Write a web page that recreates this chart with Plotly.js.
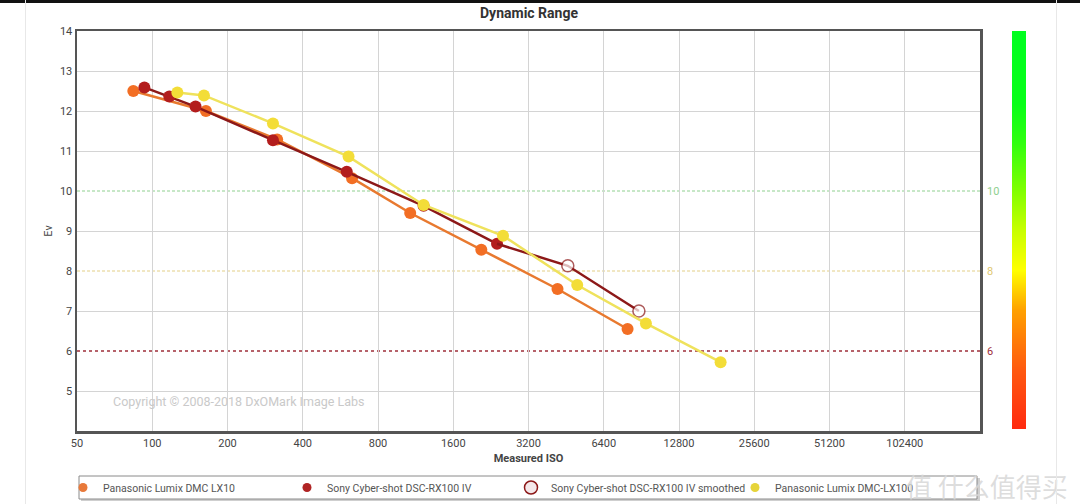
<!DOCTYPE html>
<html>
<head>
<meta charset="utf-8">
<script src="https://cdn.plot.ly/plotly-3.0.1.min.js"></script>
<style>
  html, body { margin: 0; padding: 0; background: #fff; }
  #wrap { position: relative; width: 1080px; height: 504px; overflow: hidden; }
  #chart { position: absolute; left: 0; top: 0; width: 1080px; height: 504px; }
  .topbar { position: absolute; left: 0; top: 0; width: 1080px; height: 3px; background: #111; z-index: 5; }
  .vline { position: absolute; top: 0; width: 1px; height: 504px; background: #e8e8e8; z-index: 5; }
</style>
</head>
<body>
<div id="wrap">
  <div id="chart"></div>
  <div class="topbar"></div>
  <div class="vline" style="left:25px"></div>
  <div class="vline" style="left:1056px"></div>
</div>
<script>
// ---- data ----
const isoTicks = [50, 100, 200, 400, 800, 1600, 3200, 6400, 12800, 25600, 51200, 102400];
const isoTickText = ["50", "100", "200", "400", "800", "1600", "3200", "6400", "12800", "25600", "51200", "102400"];
const evTicks = [5, 6, 7, 8, 9, 10, 11, 12, 13, 14];
const evGrid = [5, 7, 9, 11, 12, 13];

const lx10Iso = [84, 164, 316, 630, 1076, 2072, 4180, 7970];
const lx10Ev  = [12.50, 12.00, 11.29, 10.32, 9.45, 8.53, 7.55, 6.55];

const rx100Iso = [93, 117, 149, 304, 600, 1217, 2395];
const rx100Ev  = [12.59, 12.36, 12.11, 11.27, 10.48, 9.63, 8.68];

const rx100SmIso = [4596, 8848];
const rx100SmEv  = [8.13, 7.00];

const lx100Iso = [126, 161, 304, 610, 1217, 2531, 5013, 9440, 18775];
const lx100Ev  = [12.46, 12.39, 11.69, 10.86, 9.65, 8.88, 7.65, 6.69, 5.72];

const thresholds = [10, 8, 6];
const thresholdColors = ["#8fd08f", "#e3cf86", "#9e2f3a"];
const thresholdLabelColors = ["#8fd08f", "#e0c870", "#9e2f3a"];

const evScale = [4, 5, 6, 7, 8, 9, 10, 11, 12, 13, 14];

const names = ["Panasonic Lumix DMC LX10", "Sony Cyber-shot DSC-RX100 IV",
               "Sony Cyber-shot DSC-RX100 IV smoothed", "Panasonic Lumix DMC-LX100"];

// ---- layout geometry ----
const W = 1080, H = 504;
const mL = 77, mR = 50, mT = 31, mB = 73;
const paperW = W - mL - mR;
const plotW = 903;
const xDomEnd = plotW / paperW;
const pxX = px => (px - mL) / paperW;
const pxY = py => (H - mB - py) / (H - mT - mB);

const cOrange = "#f26e24", cOrangeLine = "#e8792f";
const cRed = "#b31d1d", cRedLine = "#8c1818";
const cYellow = "#f3dd38", cYellowLine = "#efe25c";

const smX = [rx100Iso[rx100Iso.length - 1]].concat(rx100SmIso);
const smY = [rx100Ev[rx100Ev.length - 1]].concat(rx100SmEv);

const traces = [
  { x: lx10Iso, y: lx10Ev, mode: "lines+markers", name: names[0], showlegend: false,
    line: { color: cOrangeLine, width: 2.5 }, marker: { color: cOrange, size: 12 } },
  { x: rx100Iso, y: rx100Ev, mode: "lines+markers", name: names[1], showlegend: false,
    line: { color: cRedLine, width: 2.5 }, marker: { color: cRed, size: 12 } },
  { x: smX, y: smY, mode: "lines+markers", name: names[2], showlegend: false,
    line: { color: cRedLine, width: 2.5 },
    marker: { color: "#ffffff", size: smX.map((v, i) => i === 0 ? 0 : 12), line: { color: cRedLine, width: 1.5 } } },
  { x: lx100Iso, y: lx100Ev, mode: "lines+markers", name: names[3], showlegend: false,
    line: { color: cYellowLine, width: 2.5 }, marker: { color: cYellow, size: 12 } },
  // legend entries (marker only)
  { x: [null], y: [null], mode: "markers", name: names[0], marker: { color: "#e8793a", size: 9 } },
  { x: [null], y: [null], mode: "markers", name: names[1], marker: { color: "#b02424", size: 9 } },
  { x: [null], y: [null], mode: "markers", name: names[2], marker: { color: "#f4e8ea", size: 13, line: { color: "#8c1818", width: 1.5 } } },
  { x: [null], y: [null], mode: "markers", name: names[3], marker: { color: "#e6d43a", size: 9 } },
  // colour bar strip
  { type: "heatmap", xaxis: "x2", yaxis: "y2", x: [0, 1], y: evScale,
    z: evScale.map(v => [v, v]), zsmooth: "best", showscale: false, hoverinfo: "skip",
    zmin: 4, zmax: 14,
    colorscale: [[0, "#ff2a10"], [0.15, "#ff5a10"], [0.3, "#ffa000"], [0.4, "#ffff00"],
                 [0.5, "#c8ff00"], [0.6, "#80ff00"], [0.72, "#30ff10"], [0.82, "#08ff18"], [1, "#00ff20"]] },
  // anchor for the grid-only overlay axis
  { x: [null], y: [null], yaxis: "y3", mode: "markers", showlegend: false, hoverinfo: "skip" }
];

const shapes = [];
thresholds.forEach((t, i) => {
  shapes.push({ type: "line", xref: "paper", yref: "y", x0: 0, x1: xDomEnd, y0: t, y1: t,
                layer: "between", line: { color: "#ffffff", width: 2 } });
  shapes.push({ type: "line", xref: "paper", yref: "y", x0: 0, x1: xDomEnd, y0: t, y1: t,
                layer: "between", line: { color: thresholdColors[i], width: i === 2 ? 1.5 : 1, dash: i === 2 ? "dot" : "3px,2px" } });
});
// legend box with shadow
shapes.push({ type: "rect", xref: "paper", yref: "paper", x0: pxX(81), x1: pxX(980), y0: pxY(501), y1: pxY(478),
              line: { width: 0 }, fillcolor: "#cfcfcf", layer: "below" });
shapes.push({ type: "rect", xref: "paper", yref: "paper", x0: pxX(79), x1: pxX(977), y0: pxY(499), y1: pxY(476),
              line: { color: "#8a8a8a", width: 1 }, fillcolor: "#ffffff", layer: "below" });

const annotations = thresholds.map((t, i) => ({
  xref: "paper", yref: "y", x: pxX(985), y: t, xanchor: "left", yanchor: "middle", showarrow: false,
  text: String(t), font: { family: "Roboto", size: 11, color: thresholdLabelColors[i] }
}));
annotations.push({ xref: "paper", yref: "paper", x: pxX(111), y: pxY(401), xanchor: "left", yanchor: "middle",
  showarrow: false, text: "Copyright © 2008-2018 DxOMark Image Labs",
  font: { family: "Roboto", size: 12.5, color: "#c9c9c9" } });
annotations.push({ xref: "paper", yref: "paper", x: pxX(1070), y: pxY(485), xanchor: "right", yanchor: "middle",
  showarrow: false, text: "值 什么值得买",
  font: { family: "Noto Sans CJK SC", size: 26, color: "rgba(215,215,215,0.85)" } });

const layout = {
  width: W, height: H,
  margin: { l: mL, r: mR, t: mT, b: mB, pad: 0, autoexpand: false },
  paper_bgcolor: "#ffffff", plot_bgcolor: "#ffffff",
  font: { family: "Roboto", size: 11, color: "#444" },
  title: { text: "<b>Dynamic Range</b>", x: 529 / W, xref: "container", xanchor: "center",
           y: 1 - 13 / H, yref: "container", yanchor: "middle", font: { family: "Roboto", size: 14, color: "#333" } },
  xaxis: {
    type: "log", domain: [0, xDomEnd],
    range: [Math.log10(50), Math.log10(204800)],
    tickvals: isoTicks, ticktext: isoTickText, ticks: "",
    showgrid: true, gridcolor: "#d4d4d4", gridwidth: 1, zeroline: false,
    showline: true, linecolor: "#555", linewidth: 2.5, mirror: true,
    tickfont: { family: "Roboto", size: 11, color: "#444" },
    title: { text: "<b>Measured ISO</b>", standoff: 6, font: { family: "Roboto", size: 11, color: "#444" } }
  },
  yaxis: {
    range: [4, 14], tickvals: evTicks, ticks: "", showgrid: false, zeroline: false,
    showline: true, linecolor: "#555", linewidth: 2.5, mirror: true,
    tickfont: { family: "Roboto", size: 11, color: "#444" },
    title: { text: "Ev", standoff: 5, font: { family: "Roboto", size: 11, color: "#444" } }
  },
  yaxis3: {
    overlaying: "y", range: [4, 14], tickvals: evGrid, showticklabels: false, ticks: "",
    showgrid: true, gridcolor: "#d4d4d4", gridwidth: 1, zeroline: false, showline: false
  },
  xaxis2: { domain: [pxX(1012), pxX(1026)], range: [-0.5, 1.5], visible: false, anchor: "y2", fixedrange: true },
  yaxis2: { domain: [pxY(429), pxY(30)], range: [4, 14], visible: false, anchor: "x2", fixedrange: true },
  showlegend: true,
  legend: {
    orientation: "h", x: pxX(63), xanchor: "left", y: pxY(487.5), yanchor: "middle",
    bgcolor: "rgba(0,0,0,0)", borderwidth: 0,
    entrywidth: 179, entrywidthmode: "pixels", itemwidth: 30,
    font: { family: "Roboto", size: 10.5, color: "#555" }
  },
  shapes: shapes,
  annotations: annotations
};

Plotly.newPlot("chart", traces, layout, { staticPlot: true, displayModeBar: false });
</script>
</body>
</html>
